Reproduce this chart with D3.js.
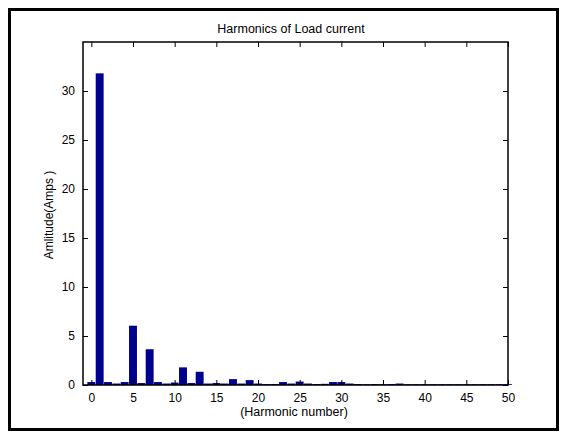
<!DOCTYPE html>
<html>
<head>
<meta charset="utf-8">
<script src="https://cdn.jsdelivr.net/npm/d3@7"></script>
<style>
  html, body { margin: 0; padding: 0; background: #fff; }
  svg { display: block; }
  text { font-family: "Liberation Sans", Arial, sans-serif; }
</style>
</head>
<body>
<svg id="chart" width="563" height="435"></svg>
<script>
// Harmonic orders 0..50 and their amplitudes (A)
const harmonics = d3.range(0, 51);
const amplitudes = [
  0.3, 31.8, 0.3, 0.15, 0.3, 6.05, 0.2, 3.65, 0.3, 0.15,
  0.25, 1.8, 0.2, 1.35, 0.15, 0.2, 0.15, 0.6, 0.15, 0.5,
  0.15, 0.1, 0.1, 0.3, 0.15, 0.35, 0.15, 0.1, 0.12, 0.3,
  0.3, 0.15, 0.1, 0.08, 0.1, 0.08, 0.1, 0.15, 0.08, 0.08,
  0.08, 0.08, 0.08, 0.08, 0.08, 0.08, 0.08, 0.08, 0.08, 0.08,
  0.08
];
const xTicks = [0, 5, 10, 15, 20, 25, 30, 35, 40, 45, 50];
const yTicks = [0, 5, 10, 15, 20, 25, 30];
const titleText = "Harmonics of Load current";
const xLabel = "(Harmonic number)";
const yLabel = "Amlitude(Amps )";

const svg = d3.select("#chart");

// outer figure frame
svg.append("rect")
  .attr("x", 9.5).attr("y", 9.5)
  .attr("width", 548).attr("height", 420)
  .attr("fill", "none").attr("stroke", "#000").attr("stroke-width", 3);

const plot = { left: 83, top: 42, right: 508, bottom: 385 };

const x = d3.scaleLinear().domain([-1, 50]).range([plot.left, plot.right]);
const y = d3.scaleLinear().domain([0, 35]).range([plot.bottom, plot.top]);

const barW = (x(1) - x(0)) * 0.95;

// bars
svg.append("g")
  .selectAll("rect")
  .data(harmonics)
  .join("rect")
  .attr("x", d => x(d) - barW / 2)
  .attr("y", (d, i) => y(amplitudes[i]))
  .attr("width", barW)
  .attr("height", (d, i) => y(0) - y(amplitudes[i]))
  .attr("fill", "#00008f");

// axes with inward ticks, mirrored on top and right
const tickLen = 5;
const axisBottom = d3.axisBottom(x).tickValues(xTicks).tickSizeInner(-tickLen).tickSizeOuter(0).tickPadding(8);
const axisTop = d3.axisTop(x).tickValues(xTicks).tickSizeInner(-tickLen).tickSizeOuter(0).tickFormat("");
const axisLeft = d3.axisLeft(y).tickValues(yTicks).tickSizeInner(-tickLen).tickSizeOuter(0).tickPadding(8);
const axisRight = d3.axisRight(y).tickValues(yTicks).tickSizeInner(-tickLen).tickSizeOuter(0).tickFormat("");

function style(g) {
  g.select(".domain").remove();
  g.selectAll(".tick line").attr("stroke", "#000");
  g.selectAll(".tick text").attr("fill", "#000").style("font-size", "12px")
    .style("font-family", "'Liberation Sans', Arial, sans-serif");
}

svg.append("g").attr("transform", `translate(0,${plot.bottom})`).call(axisBottom).call(style);
svg.append("g").attr("transform", `translate(0,${plot.top})`).call(axisTop).call(style);
svg.append("g").attr("transform", `translate(${plot.left},0)`).call(axisLeft).call(style);
svg.append("g").attr("transform", `translate(${plot.right},0)`).call(axisRight).call(style);

// plot box
svg.append("rect")
  .attr("x", plot.left).attr("y", plot.top)
  .attr("width", plot.right - plot.left).attr("height", plot.bottom - plot.top)
  .attr("fill", "none").attr("stroke", "#000").attr("stroke-width", 1.5);

// titles
svg.append("text")
  .attr("x", 291).attr("y", 33)
  .attr("text-anchor", "middle").style("font-size", "12.5px")
  .text(titleText);

svg.append("text")
  .attr("x", 294).attr("y", 416)
  .attr("text-anchor", "middle").style("font-size", "12.5px")
  .text(xLabel);

svg.append("text")
  .attr("transform", `translate(53,215) rotate(-90)`)
  .attr("text-anchor", "middle").style("font-size", "12px")
  .text(yLabel);
</script>
</body>
</html>
